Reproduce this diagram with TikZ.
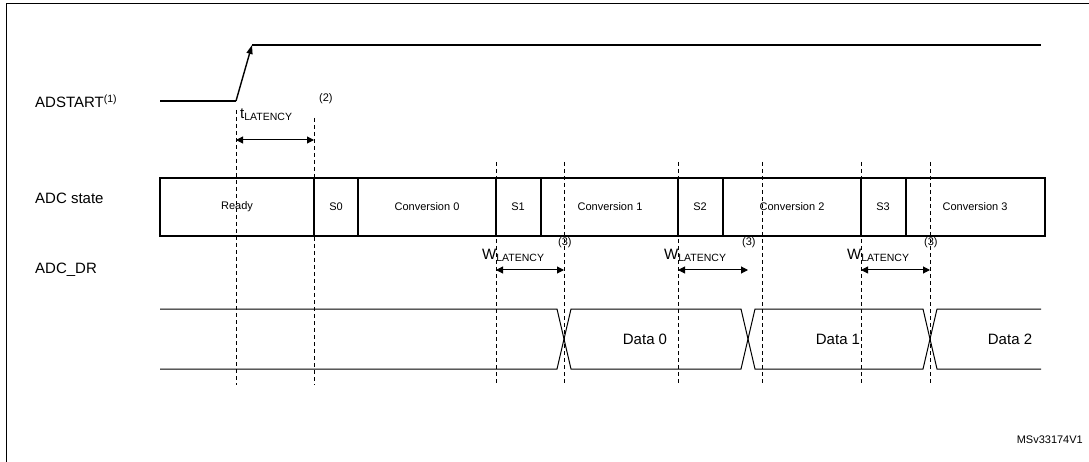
\documentclass[tikz,border=0pt]{standalone}
\usepackage{fontspec}
\setmainfont{Liberation Sans}
\usetikzlibrary{arrows.meta}
\begin{document}
\begin{tikzpicture}[x=1pt,y=-1pt,
  sig/.style={line width=1.4pt},
  box/.style={line width=1.4pt},
  dsh/.style={line width=0.6pt,dash pattern=on 4pt off 3pt},
  lat/.style={{Triangle[length=7pt,width=7pt]}-{Triangle[length=7pt,width=7pt]},line width=1pt},
  lbl/.style={font=\fontsize{15}{15}\selectfont,anchor=west,inner sep=0pt},
  st/.style={font=\fontsize{11}{11}\selectfont,inner sep=0pt},
  dat/.style={font=\fontsize{15}{15}\selectfont,inner sep=0pt}]
\useasboundingbox (0,0) rectangle (1089,462);
\fill[white] (0,0) rectangle (1089,462);
\draw[line width=1pt] (6,470) -- (6,4) -- (1095,4);
% labels
\node[lbl] (ads) at (35,101) {ADSTART\textsuperscript{(1)}};
\node[lbl] (adcs) at (35,198) {ADC state};
\node[lbl] (adcdr) at (35,270) {ADC\_DR};
% ADSTART
\coordinate (a0) at (160,101);
\coordinate (a1) at (236,101);
\coordinate (a2) at (252,45);
\coordinate (a3) at (1041,45);
\draw[sig] (a0) -- (a1);
\draw[sig,-{Triangle[length=9pt,width=6pt]}] (a1) -- (a2);
\draw[sig] (a2) -- (a3);
% dashed lines
\foreach \n/\x/\t in {d1/236/110,d2/314/118,d3/496/162,d4/564/162,d5/678/162,d6/762/162,d7/861/162,d8/930/162}{
  \coordinate (\n t) at (\x,\t); \coordinate (\n b) at (\x,385);
  \draw[dsh] (\n t) -- (\n b);}
% t latency
\draw[lat] (236,140) -- (314,140);
\node[font=\fontsize{15}{15}\selectfont,anchor=south west,inner sep=0pt] (tl) at (240,121) {t\textsubscript{LATENCY}};
\node[font=\fontsize{11}{11}\selectfont,anchor=south west,inner sep=0pt] (tl2) at (319,104) {(2)};
% state box
\draw[box] (160,178) rectangle (1045,236);
\foreach \x in {314,358,496,541,678,723,861,906}{\draw[box] (\x,178) -- (\x,236);}
\foreach \n/\x/\t in {s1/237/Ready,s2/336/S0,s3/427/Conversion 0,s4/518/S1,s5/610/Conversion 1,s6/700/S2,s7/792/Conversion 2,s8/883/S3,s9/975/Conversion 3}{
  \node[st] (\n) at (\x,207) {\t};}
% W latency
\foreach \n/\a/\b in {w1/496/564,w2/678/748,w3/861/930}{
  \draw[lat] (\a,270) -- (\b,270);
  \node[font=\fontsize{15}{15}\selectfont,anchor=south west,inner sep=0pt] (\n) at (\a-14,262) {W\textsubscript{LATENCY}};
  \node[font=\fontsize{11}{11}\selectfont,anchor=south west,inner sep=0pt] (\n s) at (\b-6,248) {(3)};}
% bus
\draw[line width=1pt] (160,309) -- (557,309) -- (571,369) -- (741,369) -- (755,309) -- (923,309) -- (937,369) -- (1041,369);
\draw[line width=1pt] (160,369) -- (557,369) -- (571,309) -- (741,309) -- (755,369) -- (923,369) -- (937,309) -- (1041,309);
\node[dat] (dd0) at (645,339) {Data 0};
\node[dat] (dd1) at (838,339) {Data 1};
\node[dat] (dd2) at (1010,339) {Data 2};
\node[font=\fontsize{11}{11}\selectfont,anchor=east,inner sep=0pt] (id) at (1083,440) {MSv33174V1};
\end{tikzpicture}
\end{document}
